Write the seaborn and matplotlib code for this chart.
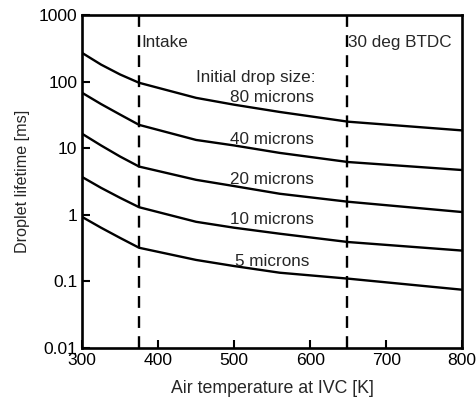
import matplotlib
matplotlib.use("Agg")
import matplotlib.pyplot as plt
import seaborn as sns
import pandas as pd
import numpy as np

# Data
temps = [300, 325, 350, 375, 450, 500, 560, 650, 800]
size_labels = ["80 microns", "40 microns", "20 microns", "10 microns", "5 microns"]
life_80 = [270, 180, 128, 96, 57, 45, 35, 25, 18.5]
life_40 = [68, 46, 32, 22.4, 13.3, 11, 8.5, 6.2, 4.7]
life_20 = [16.5, 11, 7.5, 5.3, 3.35, 2.7, 2.07, 1.57, 1.1]
life_10 = [3.7, 2.54, 1.8, 1.3, 0.785, 0.64, 0.52, 0.39, 0.29]
life_5 = [0.93, 0.64, 0.45, 0.32, 0.21, 0.17, 0.135, 0.11, 0.075]
series = [life_80, life_40, life_20, life_10, life_5]
label_y = [57, 13.3, 3.35, 0.84, 0.2]
vlines = [375, 648]
vline_labels = ["Intake", "30 deg BTDC"]
xticks = [300, 400, 500, 600, 700, 800]
yticks = [0.01, 0.1, 1, 10, 100, 1000]
ytick_labels = ["0.01", "0.1", "1", "10", "100", "1000"]

rows = []
for lab, vals in zip(size_labels, series):
    for t, v in zip(temps, vals):
        rows.append({"T": t, "life": v, "size": lab})
df = pd.DataFrame(rows)

sns.set_style("ticks")
plt.rcParams["font.family"] = ["Liberation Sans", "DejaVu Sans"]
plt.rcParams["font.size"] = 12

fig = plt.figure(figsize=(4.77, 4.0), dpi=100)
ax = fig.add_axes([0.172, 0.13, 0.797, 0.8325])

sns.lineplot(data=df, x="T", y="life", hue="size", palette=["black"] * 5,
             linewidth=1.7, legend=False, ax=ax, estimator=None)
ax.set_yscale("log")
ax.set_xlim(300, 800)
ax.set_ylim(0.01, 1000)

for xv in vlines:
    ax.axvline(xv, color="black", linewidth=1.7, linestyle=(0, (5, 3.5)))

fs = 12.3
ax.text(378, 380, vline_labels[0], ha="left", va="center", fontsize=fs)
ax.text(650, 380, vline_labels[1], ha="left", va="center", fontsize=fs)
ax.text(529, 114, "Initial drop size:", ha="center", va="center", fontsize=fs)
for lab, yv in zip(size_labels, label_y):
    ax.text(550, yv, lab, ha="center", va="center", fontsize=fs)

ax.set_xticks(xticks)
ax.set_yticks(yticks)
ax.set_yticklabels(ytick_labels)
ax.minorticks_off()
ax.yaxis.set_minor_locator(matplotlib.ticker.NullLocator())
ax.tick_params(direction="in", length=6, width=1.5, labelsize=12.6, colors="black")
for s in ax.spines.values():
    s.set_linewidth(1.9)
    s.set_color("black")

ax.set_xlabel("Air temperature at IVC [K]", fontsize=12.8, labelpad=9)
ax.set_ylabel("Droplet lifetime [ms]", fontsize=11.6, labelpad=6)

fig.savefig("out.png", dpi=100)
